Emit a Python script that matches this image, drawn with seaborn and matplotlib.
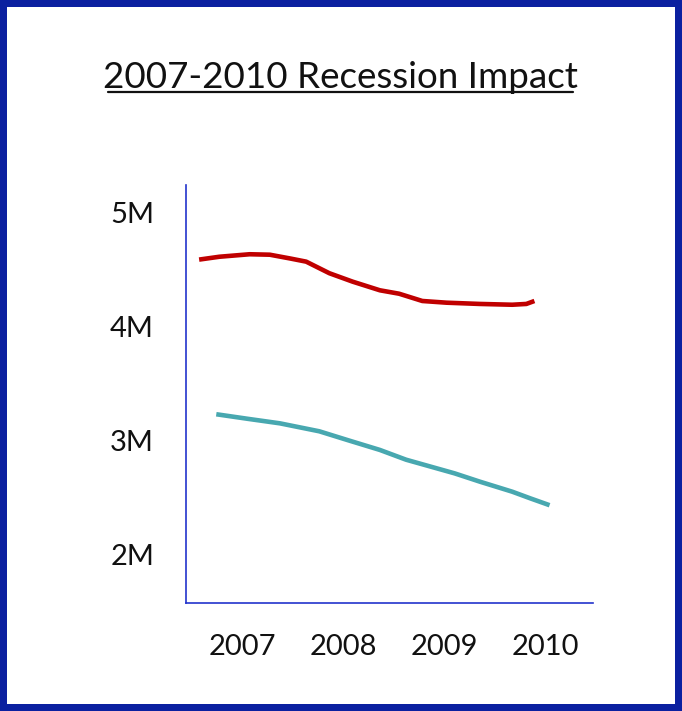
import matplotlib
matplotlib.use("Agg")
import matplotlib.pyplot as plt
import seaborn as sns
import pandas as pd
from matplotlib.lines import Line2D

title = "2007-2010 Recession Impact"
year_ticks = [2007, 2008, 2009, 2010]
value_ticks = [2, 3, 4, 5]
value_labels = ["2M", "3M", "4M", "5M"]

red_x = [2006.57, 2006.77, 2007.07, 2007.27, 2007.47, 2007.63, 2007.86, 2008.09,
         2008.36, 2008.55, 2008.78, 2009.02, 2009.35, 2009.67, 2009.81, 2009.89]
red_y = [4.59, 4.615, 4.637, 4.633, 4.60, 4.572, 4.47, 4.396,
         4.32, 4.29, 4.226, 4.211, 4.20, 4.193, 4.20, 4.226]
teal_x = [2006.74, 2007.05, 2007.37, 2007.76, 2008.05, 2008.36, 2008.62, 2008.82,
          2009.10, 2009.35, 2009.67, 2009.85, 2010.04]
teal_y = [3.23, 3.19, 3.15, 3.08, 3.00, 2.916, 2.83, 2.78,
          2.71, 2.637, 2.549, 2.49, 2.43]

sns.set_theme(style="white")
plt.rcParams['font.family'] = ['Lato', 'DejaVu Sans']

fig = plt.figure(figsize=(6.82, 7.11), dpi=100, facecolor="white",
                 edgecolor="#0b20a0", linewidth=10)
ax = fig.add_axes([0.2727, 0.1519, 0.5968, 0.5879])

red_df = pd.DataFrame({"year": red_x, "value": red_y})
teal_df = pd.DataFrame({"year": teal_x, "value": teal_y})
sns.lineplot(data=red_df, x="year", y="value", ax=ax, color="#c00000",
             linewidth=3.3, sort=False, solid_capstyle="butt", solid_joinstyle="round")
sns.lineplot(data=teal_df, x="year", y="value", ax=ax, color="#48a8b0",
             linewidth=3.3, sort=False, solid_capstyle="butt", solid_joinstyle="round")

ax.set_xlim(2006.44, 2010.47)
ax.set_ylim(1.57, 5.246)
ax.set_xticks(year_ticks)
ax.set_xticklabels([str(y) for y in year_ticks])
ax.set_yticks(value_ticks)
ax.set_yticklabels(value_labels)
ax.set_xlabel("")
ax.set_ylabel("")
for s in ["top", "right"]:
    ax.spines[s].set_visible(False)
for s in ["left", "bottom"]:
    ax.spines[s].set_color("#2233cc")
    ax.spines[s].set_linewidth(1.2)
ax.tick_params(axis="both", length=0, labelsize=21, colors="#111111")
ax.tick_params(axis="y", pad=23)
ax.tick_params(axis="x", pad=22)

fig.text(0.4985, 0.876, title, ha="center", va="baseline", fontsize=26.5,
         color="#111111")
fig.add_artist(Line2D([108/682, 573/682], [1 - 92/711, 1 - 92/711],
                      transform=fig.transFigure, color="#111111", linewidth=1.6))

fig.savefig("out.png", dpi=100, facecolor="white", edgecolor=fig.get_edgecolor())
